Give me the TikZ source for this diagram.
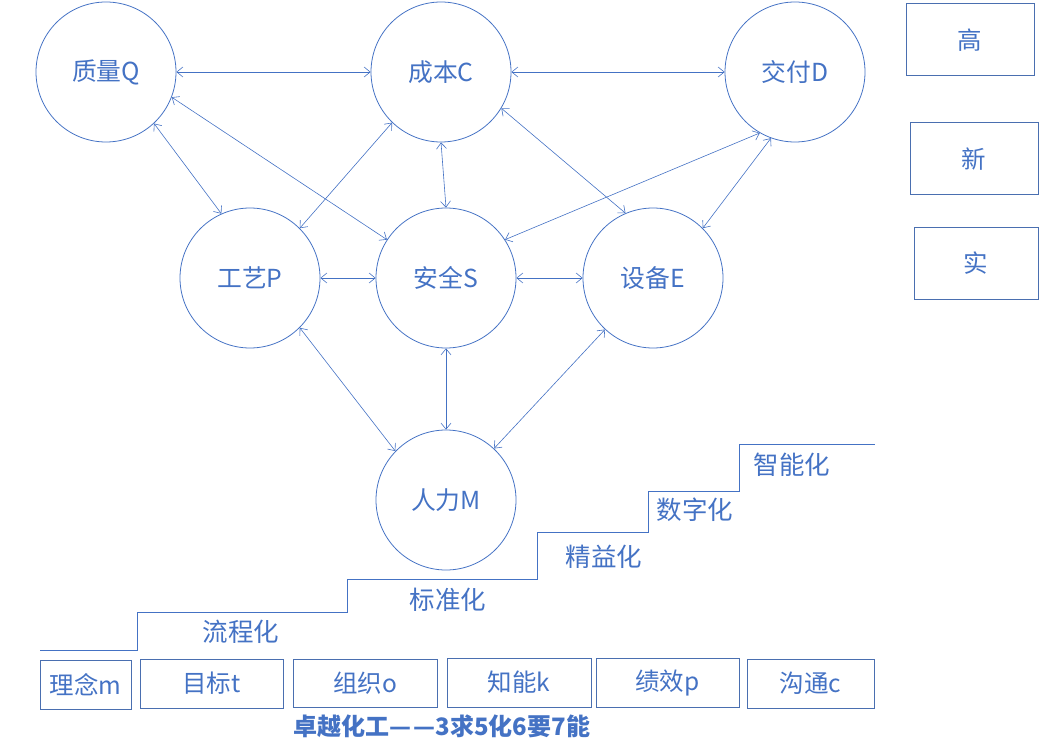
\documentclass[tikz,border=0pt]{standalone}
\usepackage{fontspec}
\setmainfont{Noto Sans CJK SC}
\usetikzlibrary{arrows.meta}
\definecolor{lb}{HTML}{4472C4}
\definecolor{bb}{HTML}{4A6FB0}
\begin{document}
\begin{tikzpicture}[x=1pt,y=-1pt,
  circ/.style={circle,draw=lb,line width=0.8pt,minimum size=140pt,inner sep=0pt,text=lb,font=\fontsize{24.8}{27}\selectfont},
  rbox/.style={draw=bb,line width=1pt,text=lb,inner sep=0pt,font=\fontsize{24.5}{27}\selectfont},
  lbl/.style={text=lb,inner sep=0pt,font=\fontsize{25.5}{28}\selectfont},
  link/.style={draw=lb,line width=0.6pt,{Straight Barb[length=6pt,width=10pt]}-{Straight Barb[length=6pt,width=10pt]}},
  stair/.style={draw=lb,line width=1pt}
]
\useasboundingbox (0,0) rectangle (1040,743);
% circles
\node[circ] (Q) at (106,72) {质量Q};
\node[circ] (C) at (441,72) {成本C};
\node[circ] (D) at (795,72) {交付D};
\node[circ] (P) at (250,278) {工艺P};
\node[circ] (S) at (446,278) {安全S};
\node[circ] (E) at (653,278) {设备E};
\node[circ] (M) at (446,500) {人力M};
% links
\draw[link] (Q.east) -- (C.west);
\draw[link] (C.east) -- (D.west);
\draw[link] (Q.-47) -- (P.114);
\draw[link] (Q.-21) -- (S.147);
\draw[link] (C.-134) -- (P.45);
\draw[link] (C.south) -- (S.north);
\draw[link] (C.-31) -- (E.113);
\draw[link] (D.-120) -- (S.33);
\draw[link] (D.-110) -- (E.45);
\draw[link] (P.east) -- (S.west);
\draw[link] (S.east) -- (E.west);
\draw[link] (P.-45) -- (M.136);
\draw[link] (S.south) -- (M.north);
\draw[link] (E.-133) -- (M.47);
% right boxes
\node[rbox,minimum width=128pt,minimum height=72pt] (gao) at (970,40) {高};
\node[rbox,minimum width=128pt,minimum height=72pt] (xin) at (974,159) {新};
\node[rbox,minimum width=124pt,minimum height=71pt] (shi) at (976,263.5) {实};
% stairs
\draw[stair] (40,650) -- (137,650) -- (137,612) -- (347,612) -- (347,579) -- (537,579) -- (537,532) -- (648,532) -- (648,491) -- (739,491) -- (739,444) -- (875,444);
\node[lbl] (s1) at (241,632) {流程化};
\node[lbl] (s2) at (448,600) {标准化};
\node[lbl] (s3) at (604,557) {精益化};
\node[lbl] (s4) at (695,510) {数字化};
\node[lbl] (s5) at (792,465) {智能化};
% bottom boxes
\node[rbox,minimum width=91pt,minimum height=49pt] (b1) at (85.5,684.5) {理念m};
\node[rbox,minimum width=143pt,minimum height=49pt] (b2) at (211.5,683.5) {目标t};
\node[rbox,minimum width=144pt,minimum height=48pt] (b3) at (365,683) {组织o};
\node[rbox,minimum width=144pt,minimum height=49pt] (b4) at (519,682.5) {知能k};
\node[rbox,minimum width=143pt,minimum height=49pt] (b5) at (667.5,682.5) {绩效p};
\node[rbox,minimum width=127pt,minimum height=49pt] (b6) at (810.5,683.5) {沟通c};
% title
\node[text=lb,inner sep=0pt,font=\fontsize{24}{27}\selectfont\bfseries] (title) at (442,726) {卓越化工—\kern2pt—3求5化6要7能};
\end{tikzpicture}
\end{document}
